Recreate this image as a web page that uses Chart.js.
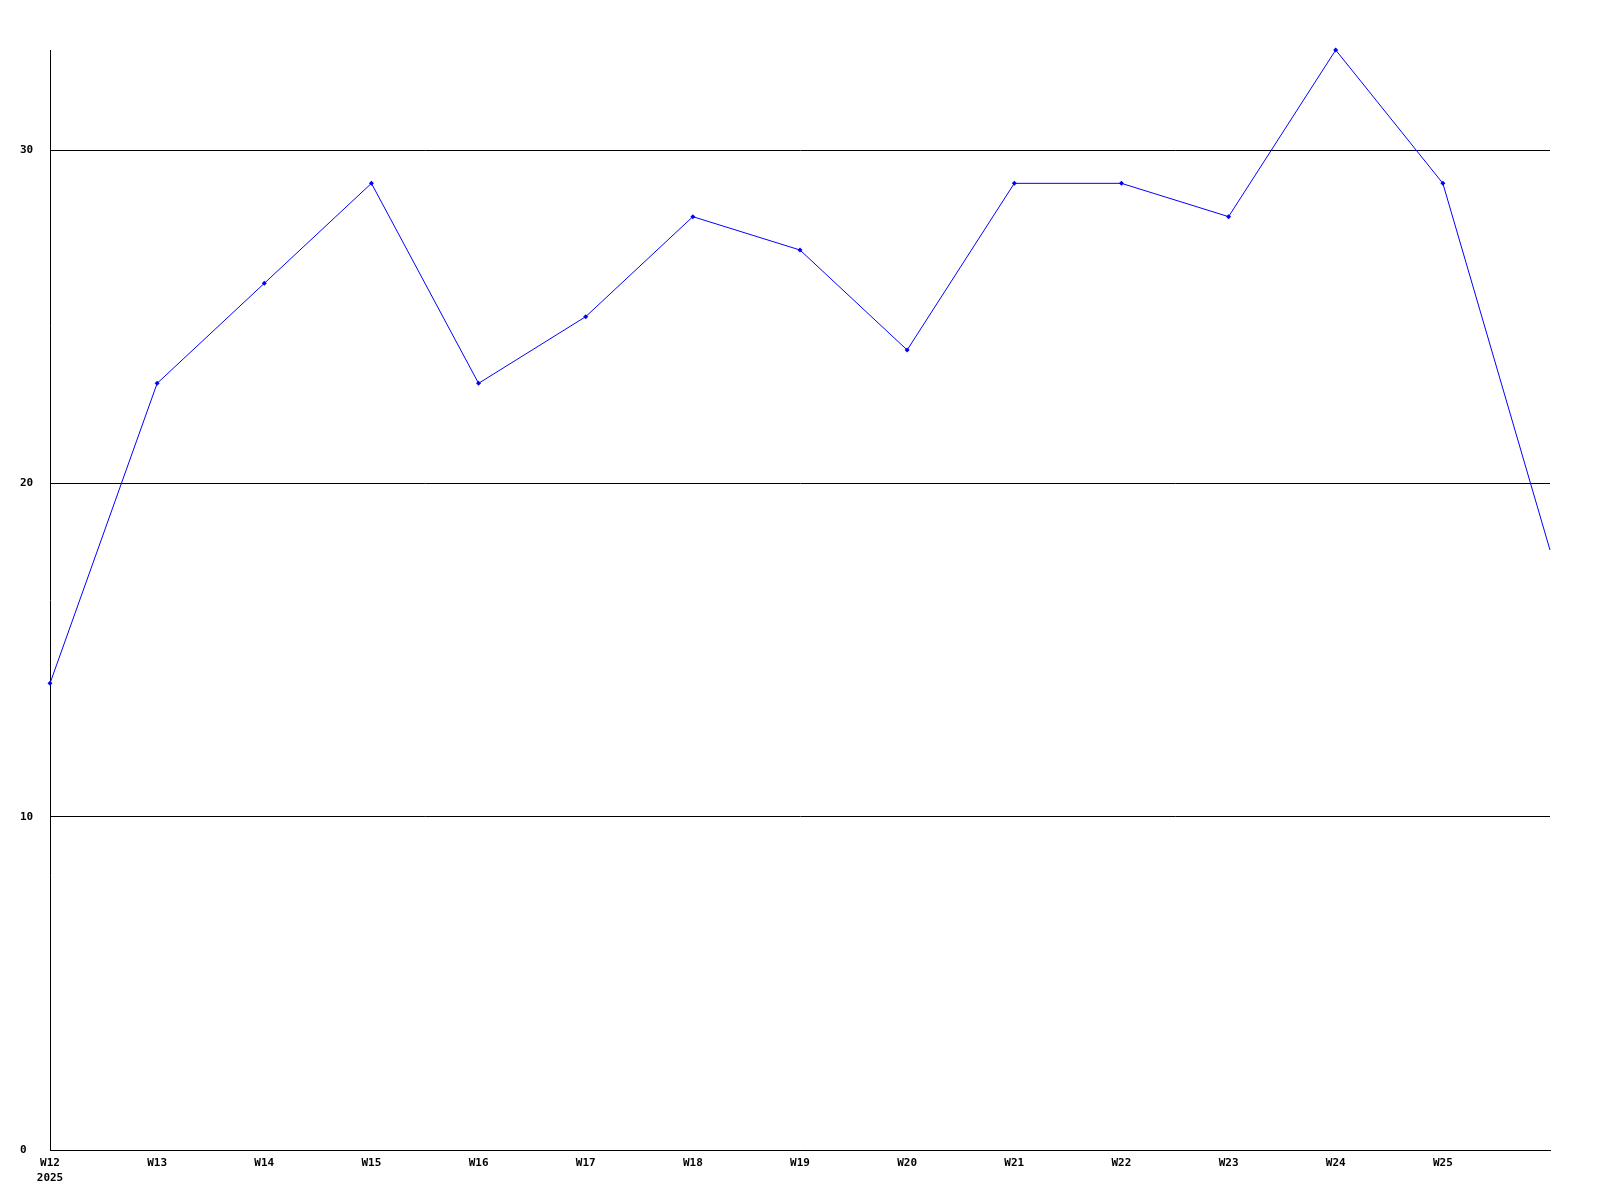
<!DOCTYPE html>
<html>
<head>
<meta charset="utf-8">
<script src="https://cdn.jsdelivr.net/npm/chart.js@4/dist/chart.umd.min.js"></script>
<style>
  html, body { margin: 0; padding: 0; background: #fff; }
  #wrap { width: 1600px; height: 1200px; }
</style>
</head>
<body>
<div id="wrap"><canvas id="myChart" width="1600" height="1200"></canvas></div>
<script>
// weekly values
let weeks = ['W12', 'W13', 'W14', 'W15', 'W16', 'W17', 'W18', 'W19', 'W20', 'W21', 'W22', 'W23', 'W24', 'W25', 'W26'];
let counts = [14, 23, 26, 29, 23, 25, 28, 27, 24, 29, 29, 28, 33, 29, 18];
let yTicks = [0, 10, 20, 30];
let yearLabel = '2025';

let labelFont = { family: 'DejaVu Sans Mono', size: 11, weight: 'bold', lineHeight: 1.35 };

// last week is still running: no marker, no label
let radii = counts.map((v, i) => i == counts.length - 1 ? 0 : 2.5);

var ctx = document.getElementById('myChart').getContext('2d');
var myChart = new Chart(ctx, {
    type: 'line',
    data: {
        labels: weeks,
        datasets: [{
            data: counts,
            borderColor: 'rgb(0, 0, 255)',
            backgroundColor: 'rgb(0, 0, 255)',
            borderWidth: 1,
            pointStyle: 'rectRot',
            pointRadius: radii,
            pointBorderWidth: 0,
            tension: 0,
            clip: false
        }]
    },
    options: {
        responsive: false,
        animation: false,
        layout: { padding: { top: 50, right: 50, left: 20, bottom: 0 } },
        plugins: {
            legend: { display: false },
            tooltip: { enabled: false }
        },
        scales: {
            x: {
                offset: false,
                grid: { display: false, drawTicks: false },
                border: { color: '#000', width: 1 },
                ticks: {
                    color: '#000',
                    font: labelFont,
                    maxRotation: 0,
                    autoSkip: false,
                    padding: 6,
                    callback: function (val, i) {
                        if (i == weeks.length - 1) return '';
                        if (i == 0) return [weeks[i], yearLabel];
                        return weeks[i];
                    }
                },
                afterFit: function (scale) { scale.height = 50; }
            },
            y: {
                min: 0,
                max: 33,
                grid: { color: '#000', lineWidth: 1, drawTicks: false },
                border: { color: '#000', width: 1 },
                ticks: {
                    color: '#000',
                    font: labelFont,
                    crossAlign: 'far',
                    padding: 10
                },
                afterBuildTicks: function (scale) {
                    scale.ticks = yTicks.map(v => ({ value: v }));
                },
                afterFit: function (scale) { scale.width = 30; }
            }
        }
    }
});
</script>
</body>
</html>
